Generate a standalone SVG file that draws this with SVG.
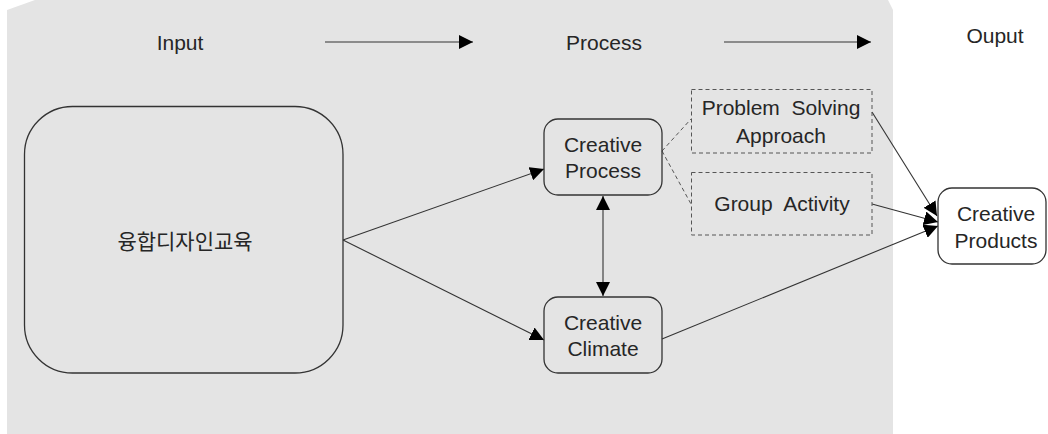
<svg xmlns="http://www.w3.org/2000/svg" width="1048" height="434" viewBox="0 0 1048 434">
  <style>
    .lbl { font-family: "Liberation Sans", "Noto Sans CJK KR", sans-serif; font-size: 21px; fill: #262626; text-anchor: middle; }
    .ko { font-family: "Noto Sans CJK KR", "Liberation Sans", sans-serif; font-size: 21px; fill: #262626; text-anchor: middle; }
    .box { fill: none; stroke: #333; stroke-width: 1.3; }
    .dash { fill: none; stroke: #555; stroke-width: 1; stroke-dasharray: 4 3; }
    .edge { fill: none; stroke: #333; stroke-width: 1.1; }
  </style>
  <defs>
    <marker id="arrow" viewBox="0 0 14 14" refX="14" refY="7" markerWidth="14" markerHeight="14" markerUnits="userSpaceOnUse" orient="auto-start-reverse">
      <path d="M0,0 L14,7 L0,14 Z" fill="#000"/>
    </marker>
  </defs>

  <rect width="1048" height="434" fill="#fff"/>
  <!-- shaded panel behind input and process stages -->
  <path d="M7,10 L35,0 L888,0 L893,10 L893,434 L7,434 Z" fill="#e4e4e4"/>

  <!-- stage headings -->
  <g id="headings">
    <text class="lbl" x="180" y="50">Input</text>
    <text class="lbl" x="604" y="50">Process</text>
    <text class="lbl" x="995" y="43">Ouput</text>
  </g>

  <g id="edges">
    <line class="edge" x1="325" y1="42" x2="473" y2="42" marker-end="url(#arrow)"/>
    <line class="edge" x1="724" y1="42" x2="871" y2="42" marker-end="url(#arrow)"/>
    <line class="edge" x1="343" y1="240" x2="544" y2="169" marker-end="url(#arrow)"/>
    <line class="edge" x1="343" y1="240" x2="544" y2="340" marker-end="url(#arrow)"/>
    <line class="edge" x1="603" y1="196" x2="603" y2="296" marker-start="url(#arrow)" marker-end="url(#arrow)"/>
    <line class="dash" x1="662" y1="151" x2="691" y2="119"/>
    <line class="dash" x1="662" y1="151" x2="691" y2="204"/>
    <line class="edge" x1="872" y1="112" x2="937" y2="216" marker-end="url(#arrow)"/>
    <line class="edge" x1="872" y1="204" x2="938" y2="222" marker-end="url(#arrow)"/>
    <line class="edge" x1="662" y1="339" x2="938" y2="226" marker-end="url(#arrow)"/>
  </g>

  <g id="convergence-design-education">
    <rect class="box" x="24.5" y="106.5" width="318.5" height="266.5" rx="48" ry="48"/>
    <text class="ko" x="185" y="249">융합디자인교육</text>
  </g>

  <g id="creative-process">
    <rect class="box" x="544" y="119" width="118" height="76" rx="14" ry="14"/>
    <text class="lbl" x="603" y="152">Creative</text>
    <text class="lbl" x="603" y="178">Process</text>
  </g>

  <g id="creative-climate">
    <rect class="box" x="544" y="297" width="118" height="76" rx="14" ry="14"/>
    <text class="lbl" x="603" y="330">Creative</text>
    <text class="lbl" x="603" y="356">Climate</text>
  </g>

  <g id="problem-solving-approach">
    <rect class="dash" x="691.5" y="89.5" width="180.5" height="63.5"/>
    <text class="lbl" x="781" y="115" xml:space="preserve">Problem  Solving</text>
    <text class="lbl" x="781" y="143">Approach</text>
  </g>

  <g id="group-activity">
    <rect class="dash" x="691.5" y="172.5" width="180.5" height="62.5"/>
    <text class="lbl" x="782" y="211" xml:space="preserve">Group  Activity</text>
  </g>

  <g id="creative-products">
    <rect class="box" x="938" y="188" width="108" height="76" rx="14" ry="14"/>
    <text class="lbl" x="996" y="221">Creative</text>
    <text class="lbl" x="996" y="248">Products</text>
  </g>
</svg>
